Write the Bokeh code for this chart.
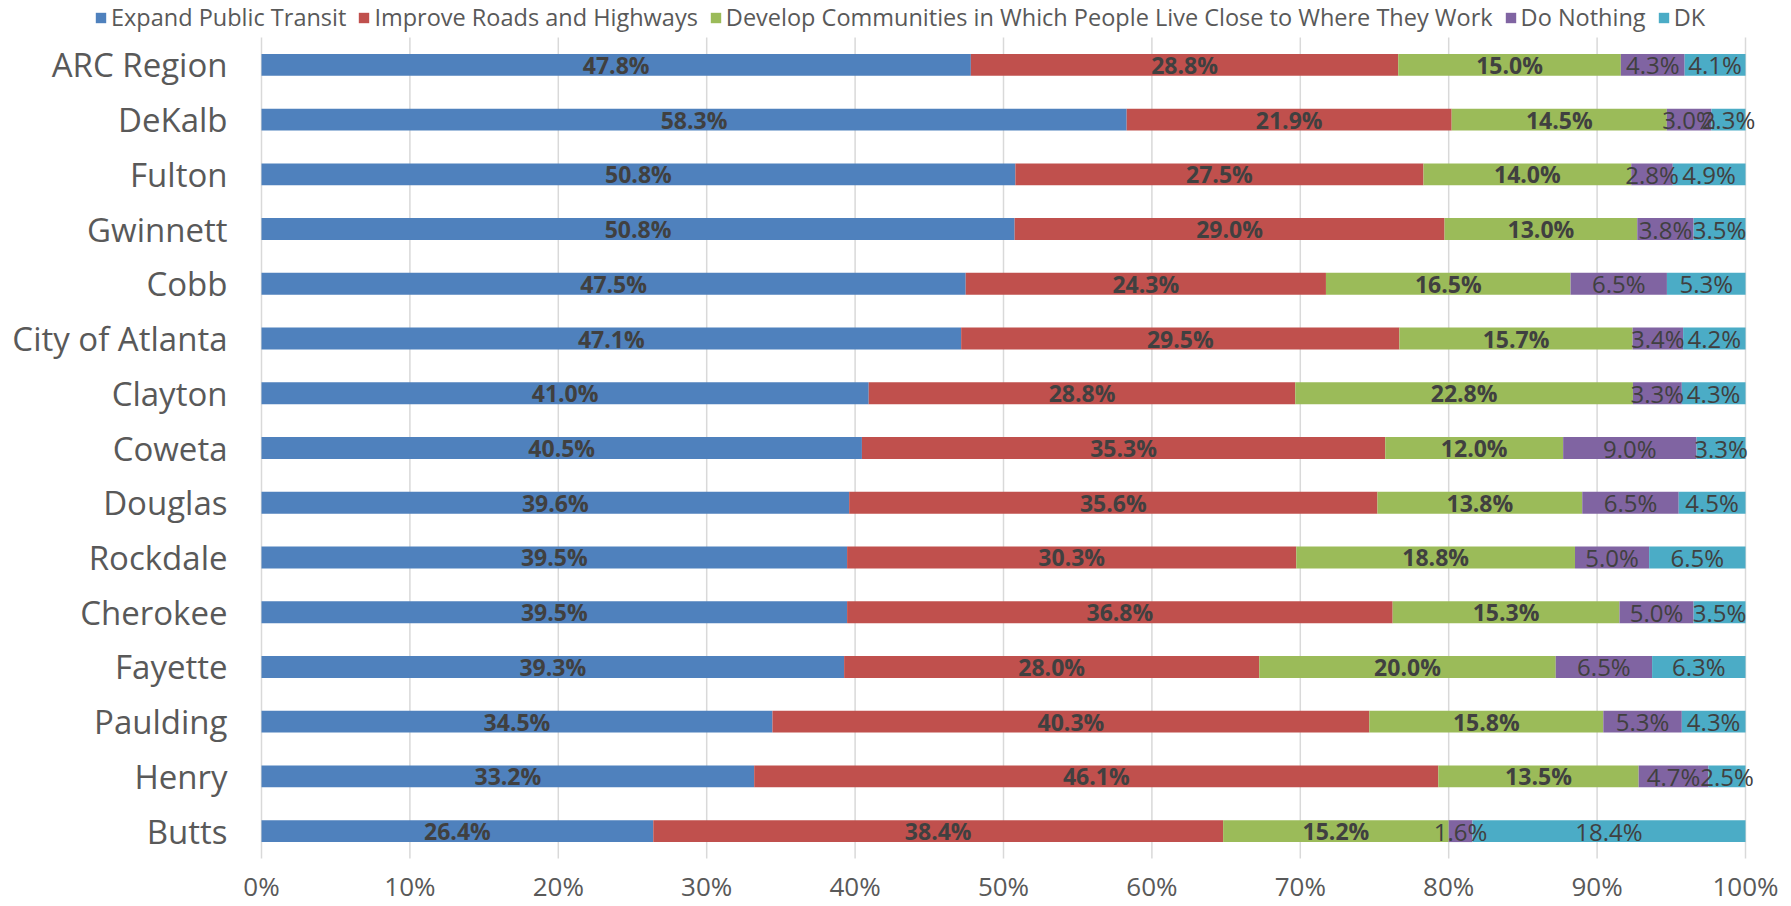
from bokeh.plotting import figure
from bokeh.models import (Range1d, ColumnDataSource, Legend, LegendItem)
from bokeh.core.properties import value
from bokeh.embed import file_html
from bokeh.resources import INLINE

categories = ["ARC Region", "DeKalb", "Fulton", "Gwinnett", "Cobb", "City of Atlanta",
              "Clayton", "Coweta", "Douglas", "Rockdale", "Cherokee", "Fayette",
              "Paulding", "Henry", "Butts"]
transit = [47.8, 58.3, 50.8, 50.8, 47.5, 47.1, 41.0, 40.5, 39.6, 39.5, 39.5, 39.3, 34.5, 33.2, 26.4]
roads = [28.8, 21.9, 27.5, 29.0, 24.3, 29.5, 28.8, 35.3, 35.6, 30.3, 36.8, 28.0, 40.3, 46.1, 38.4]
communities = [15.0, 14.5, 14.0, 13.0, 16.5, 15.7, 22.8, 12.0, 13.8, 18.8, 15.3, 20.0, 15.8, 13.5, 15.2]
nothing = [4.3, 3.0, 2.8, 3.8, 6.5, 3.4, 3.3, 9.0, 6.5, 5.0, 5.0, 6.5, 5.3, 4.7, 1.6]
dk = [4.1, 2.3, 4.9, 3.5, 5.3, 4.2, 4.3, 3.3, 4.5, 6.5, 3.5, 6.3, 4.3, 2.5, 18.4]

series_names = ["Expand Public Transit", "Improve Roads and Highways",
                "Develop Communities in Which People Live Close to Where They Work",
                "Do Nothing", "DK"]
series_values = [transit, roads, communities, nothing, dk]
series_colors = ["#4F81BD", "#C0504D", "#9BBB59", "#8064A2", "#4BACC6"]
series_bold = [True, True, True, False, False]
x_ticks = [0, 10, 20, 30, 40, 50, 60, 70, 80, 90, 100]
x_tick_labels = ["0%", "10%", "20%", "30%", "40%", "50%", "60%", "70%", "80%", "90%", "100%"]

FONT = "Open Sans"
TXT = "#595959"
LBL = "#404040"

# page layout (pixels)
W, H = 1791, 906
PLOT_L, PLOT_R = 261, 1745   # where 0% and 100% sit
PLOT_T, PLOT_B = 37, 858     # top and bottom of the category bands
TICK_Y = 885                 # centre of the x tick labels
n = len(categories)

# ranges: the frame spans the whole figure so the legend, category names
# and tick labels (all drawn inside it) are never clipped
px_per_pct = (PLOT_R - PLOT_L) / 100.0
x_start = -PLOT_L / px_per_pct
x_end = 100 + (W - PLOT_R) / px_per_pct
band = (PLOT_B - PLOT_T) / n
y_start = -0.5 - (H - PLOT_B) / band
y_end = n - 0.5 + PLOT_T / band
y_tick = -0.5 - (TICK_Y - PLOT_B) / band

# normalise each row to 100% (100% stacked bar)
totals = [sum(s[i] for s in series_values) for i in range(n)]
ypos = [n - 1 - i for i in range(n)]
keys = ["s%d" % k for k in range(len(series_values))]
data = {"y": ypos}
for k, s in zip(keys, series_values):
    data[k] = [v / t * 100 for v, t in zip(s, totals)]
source = ColumnDataSource(data)

p = figure(width=W, height=H, output_backend="svg", toolbar_location=None,
           x_range=Range1d(x_start, x_end), y_range=Range1d(y_start, y_end))
p.min_border_left = 0
p.min_border_right = 0
p.min_border_top = 0
p.min_border_bottom = 0
p.outline_line_color = None
p.xgrid.grid_line_color = None
p.ygrid.grid_line_color = None
p.xaxis.visible = False
p.yaxis.visible = False

# vertical grid lines (0% .. 100%)
p.segment(x0=x_ticks, x1=x_ticks, y0=[-0.5] * len(x_ticks), y1=[n - 0.5] * len(x_ticks),
          line_color="#D9D9D9", line_width=1.5)

# x tick labels
p.text(x=x_ticks, y=[y_tick] * len(x_ticks), text=x_tick_labels, text_align="center",
       text_baseline="middle", text_font=value(FONT), text_font_size="26px",
       text_color=TXT)

renderers = p.hbar_stack(keys, y="y", height=0.4, source=source,
                         color=series_colors, line_width=0)

# category names
p.text(x=[0] * n, y=ypos, text=categories, x_offset=-34, text_align="right",
       text_baseline="middle", text_font=value(FONT), text_font_size="33px",
       text_color=TXT)

# data labels
cum = [0.0] * n
for k, key in enumerate(keys):
    vals = data[key]
    centers = [c + v / 2 for c, v in zip(cum, vals)]
    cum = [c + v for c, v in zip(cum, vals)]
    lsrc = ColumnDataSource({"x": centers, "y": ypos,
                             "t": ["%.1f%%" % v for v in series_values[k]]})
    p.text(x="x", y="y", text="t", source=lsrc, text_align="center",
           text_baseline="middle", text_font=value(FONT),
           text_font_size="23px" if series_bold[k] else "24px",
           text_font_style="bold" if series_bold[k] else "normal",
           text_color=LBL)

legend = Legend(items=[LegendItem(label=nm, renderers=[r]) for nm, r in zip(series_names, renderers)],
                orientation="horizontal", location=(94, H - 33))
legend.border_line_color = None
legend.background_fill_alpha = 0
legend.label_text_font = FONT
legend.label_text_font_size = "23.5px"
legend.label_text_color = TXT
legend.glyph_width = 13
legend.glyph_height = 13
legend.label_standoff = 4
legend.spacing = 11
legend.padding = 2
legend.margin = 0
legend.label_height = 26
p.add_layout(legend, "center")

open("out.html", "w").write(file_html(p, INLINE))
